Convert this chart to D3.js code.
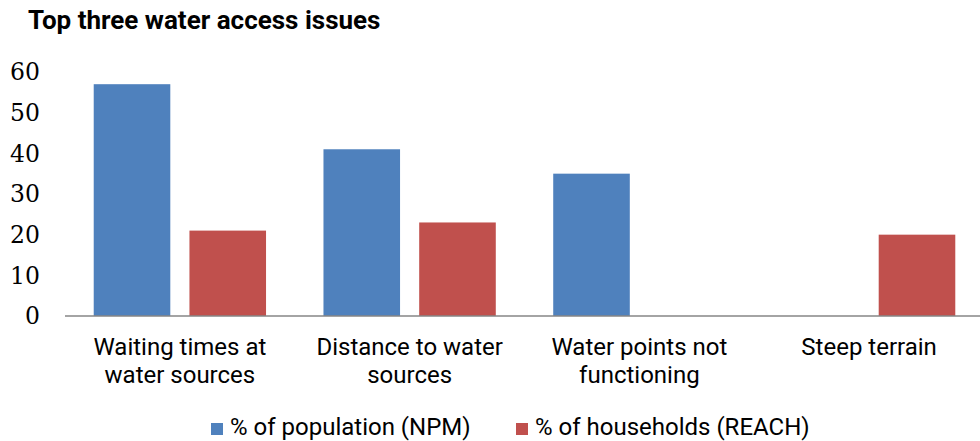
<!DOCTYPE html>
<html>
<head>
<meta charset="utf-8">
<script src="https://cdn.jsdelivr.net/npm/d3@7"></script>
<style>
  body { margin: 0; background: #fff; }
  svg { display: block; }
  .title { font-family: Roboto, sans-serif; font-weight: 700; font-size: 26px; fill: #000; }
  .ytick { font-family: "DejaVu Serif", serif; font-size: 23.5px; fill: #000; }
  .xlab { font-family: Roboto, sans-serif; font-size: 24px; fill: #000; }
  .legend text { font-family: Roboto, sans-serif; font-size: 24px; fill: #000; }
</style>
</head>
<body>
<div id="chart"></div>
<script>
// ---- Data ----
var categories = [
  ['Waiting times at', 'water sources'],
  ['Distance to water', 'sources'],
  ['Water points not', 'functioning'],
  ['Steep terrain']
];
var seriesNames = ['% of population (NPM)', '% of households (REACH)'];
var npmValues = [57, 41, 35, null];
var reachValues = [21, 23, null, 20];
var yTicks = [0, 10, 20, 30, 40, 50, 60];

var COLORS = ['#4f81bd', '#c0504d'];

var width = 980, height = 441;
var plot = { left: 65, right: 984, top: 72, bottom: 316 };

var svg = d3.select('#chart').append('svg')
  .attr('width', width)
  .attr('height', height);

// Title
svg.append('text')
  .attr('class', 'title')
  .attr('x', 28)
  .attr('y', 29)
  .text('Top three water access issues');

var x0 = d3.scaleBand()
  .domain(d3.range(categories.length))
  .range([plot.left, plot.right]);

var x1 = d3.scaleBand()
  .domain([0, 1])
  .range([0, x0.bandwidth()])
  .paddingInner(0.2)
  .paddingOuter(0.3);

var y = d3.scaleLinear()
  .domain([0, 60])
  .range([plot.bottom, plot.top]);

// Y tick labels
svg.append('g').selectAll('text')
  .data(yTicks)
  .enter().append('text')
  .attr('class', 'ytick')
  .attr('x', 40)
  .attr('y', function (d) { return y(d); })
  .attr('dy', '0.36em')
  .attr('text-anchor', 'end')
  .text(function (d) { return d; });

// Bars (skip missing values, keep category index)
[npmValues, reachValues].forEach(function (vals, s) {
  var pts = vals.map(function (v, i) { return { v: v, i: i }; })
    .filter(function (p) { return p.v !== null; });
  svg.append('g').selectAll('rect')
    .data(pts)
    .enter().append('rect')
    .attr('x', function (p) { return x0(p.i) + x1(s); })
    .attr('y', function (p) { return y(p.v); })
    .attr('width', x1.bandwidth())
    .attr('height', function (p) { return y(0) - y(p.v); })
    .attr('fill', COLORS[s]);
});

// Baseline
svg.append('line')
  .attr('x1', plot.left)
  .attr('x2', width)
  .attr('y1', y(0))
  .attr('y2', y(0))
  .attr('stroke', '#868686')
  .attr('stroke-width', 1.5);

// Category labels
var xl = svg.append('g').selectAll('text')
  .data(categories)
  .enter().append('text')
  .attr('class', 'xlab')
  .attr('text-anchor', 'middle')
  .attr('x', function (d, i) { return x0(i) + x0.bandwidth() / 2; })
  .attr('y', 355);
xl.selectAll('tspan')
  .data(function (d) { return d; })
  .enter().append('tspan')
  .attr('x', function () { return d3.select(this.parentNode).attr('x'); })
  .attr('dy', function (d, j) { return j === 0 ? 0 : 28; })
  .text(function (d) { return d; });

// Legend
var legend = svg.append('g').attr('class', 'legend');
var legendX = [211, 516];
seriesNames.forEach(function (name, s) {
  legend.append('rect')
    .attr('x', legendX[s])
    .attr('y', 423)
    .attr('width', 12)
    .attr('height', 12)
    .attr('fill', COLORS[s]);
  legend.append('text')
    .attr('x', legendX[s] + 19)
    .attr('y', 435)
    .text(name);
});
</script>
</body>
</html>
